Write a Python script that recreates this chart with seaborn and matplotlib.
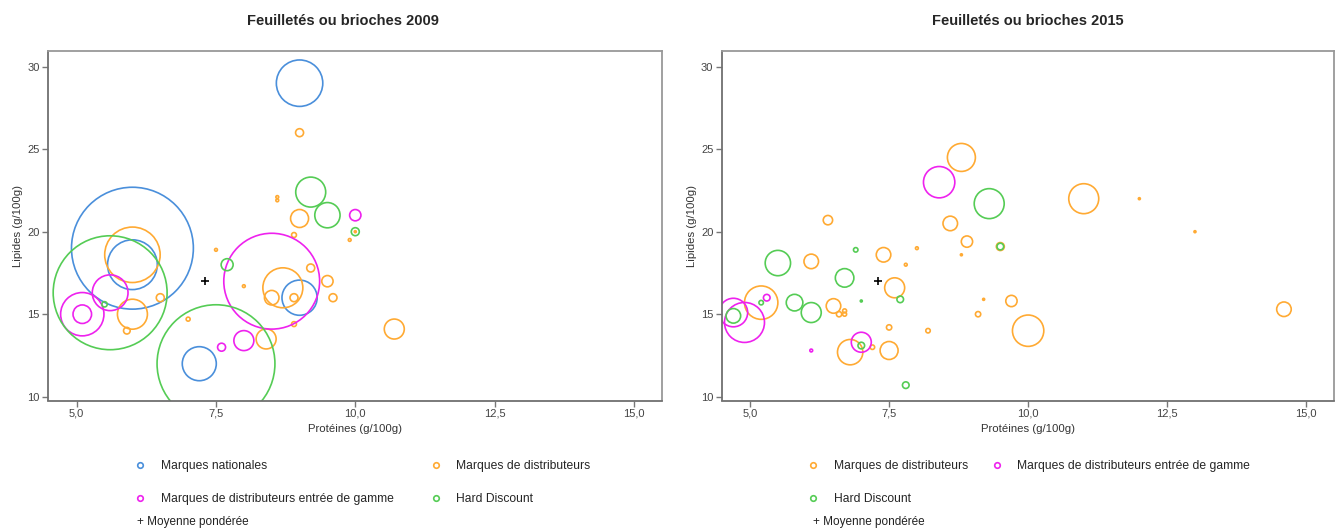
import pandas as pd
import matplotlib.pyplot as plt
from matplotlib.lines import Line2D
import seaborn as sns

# groupes de marques et couleurs
MN = 'Marques nationales'
MDD = 'Marques de distributeurs'
MDDEG = 'Marques de distributeurs entrée de gamme'
HD = 'Hard Discount'
couleurs = {MN: '#4a8fdb', MDD: '#ffaa33', MDDEG: '#ee22ee', HD: '#55cc55'}

# (protéines g/100g, lipides g/100g, poids du produit)
mn_2009 = [(9.0, 29.0, 54), (6.0, 19.0, 372), (6.0, 18.0, 62), (9.0, 16.0, 31),
           (7.2, 12.0, 29)]
mdd_2009 = [(9.0, 26.0, 1.6), (8.6, 22.1, 0.2), (8.6, 21.9, 0.2), (9.0, 20.8, 8.1),
            (8.9, 19.8, 0.6), (9.9, 19.5, 0.2), (10.0, 20.0, 0.1), (6.0, 18.6, 77),
            (7.5, 18.9, 0.2), (9.2, 17.8, 1.6), (8.7, 16.6, 40), (8.0, 16.7, 0.2),
            (9.5, 17.0, 3.2), (8.5, 16.0, 5.3), (8.9, 16.0, 1.6), (9.6, 16.0, 1.6),
            (6.5, 16.0, 1.6), (6.0, 15.0, 22.5), (5.9, 14.0, 1.1), (7.0, 14.7, 0.4),
            (8.9, 14.4, 0.6), (8.4, 13.5, 10), (10.7, 14.1, 10)]
mddeg_2009 = [(10.0, 21.0, 3.2), (8.5, 17.0, 230), (5.6, 16.3, 32), (5.1, 15.0, 47),
              (5.1, 15.0, 8.6), (8.0, 13.4, 10), (7.6, 13.0, 1.6)]
hd_2009 = [(9.2, 22.4, 22.5), (9.5, 21.0, 16), (10.0, 20.0, 1.6), (7.7, 18.0, 3.6),
           (5.6, 16.3, 325), (5.5, 15.6, 0.7), (7.5, 12.0, 348)]

mdd_2015 = [(8.8, 24.5, 19.6), (8.6, 20.5, 5.3), (6.4, 20.7, 2.2), (8.9, 19.4, 3.2),
            (9.5, 19.1, 1.6), (8.0, 19.0, 0.2), (8.8, 18.6, 0.1), (7.4, 18.6, 5.3),
            (6.1, 18.2, 5.3), (7.8, 18.0, 0.2), (7.6, 16.6, 10), (5.2, 15.7, 27.9),
            (6.5, 15.5, 5.3), (6.6, 15.0, 0.7), (6.7, 15.2, 0.4), (6.7, 15.0, 0.4),
            (9.2, 15.9, 0.1), (9.1, 15.0, 0.7), (9.7, 15.8, 3.2), (7.5, 14.2, 0.7),
            (8.2, 14.0, 0.5), (6.8, 12.7, 16.1), (7.5, 12.8, 8.1), (7.2, 13.0, 0.5),
            (11.0, 22.0, 22.5), (12.0, 22.0, 0.1), (13.0, 20.0, 0.1), (10.0, 14.0, 24.6),
            (14.6, 15.3, 5.3)]
mddeg_2015 = [(8.4, 23.0, 24.6), (5.3, 16.0, 1.1), (4.7, 15.1, 20.4), (4.9, 14.5, 40),
              (7.0, 13.3, 10), (6.1, 12.8, 0.2)]
hd_2015 = [(9.3, 21.7, 22.5), (9.5, 19.1, 1.1), (6.9, 18.9, 0.5), (5.5, 18.1, 16.1),
           (6.7, 17.2, 8.6), (7.0, 15.8, 0.1), (7.7, 15.9, 1.1), (5.8, 15.7, 6.9),
           (5.2, 15.7, 0.5), (6.1, 15.1, 10), (4.7, 14.9, 5.3), (7.0, 13.1, 1.1),
           (7.8, 10.7, 1.1)]

moyenne_2009 = (7.3, 17.0)
moyenne_2015 = (7.3, 17.0)

x_ticks = [5.0, 7.5, 10.0, 12.5, 15.0]
y_ticks = [10, 15, 20, 25, 30]

W_MAX = 400
S_MAX = W_MAX * 20.7


def make_df(series):
    rows = []
    for groupe, pts in series.items():
        for p, l, w in pts:
            rows.append({'groupe': groupe, 'proteines': p, 'lipides': l, 'poids': w})
    return pd.DataFrame(rows)


def trace(ax, df, moy, titre, title_x):
    sns.scatterplot(data=df, x='proteines', y='lipides', hue='groupe', palette=couleurs,
                    size='poids', sizes=(0, S_MAX), size_norm=(0, W_MAX),
                    legend=False, ax=ax, linewidth=1.2)
    # cercles vides
    coll = ax.collections[-1]
    coll.set_edgecolors(coll.get_facecolors())
    coll.set_facecolors('none')
    sns.scatterplot(x=[moy[0]], y=[moy[1]], marker='+', color='black', s=40,
                    linewidth=1.2, ax=ax, legend=False)

    ax.set_xlim(4.49, 15.5)
    ax.set_ylim(9.77, 30.95)
    ax.set_xticks(x_ticks, labels=[f'{v:.1f}'.replace('.', ',') for v in x_ticks])
    ax.set_yticks(y_ticks, labels=[str(v) for v in y_ticks])
    ax.tick_params(direction='out', length=4, width=1, color='#777777',
                   labelsize=8, labelcolor='#444444', pad=2)
    for s in ['top', 'right']:
        ax.spines[s].set_color('#999999')
        ax.spines[s].set_linewidth(1.3)
    for s in ['left', 'bottom']:
        ax.spines[s].set_color('#707070')
        ax.spines[s].set_linewidth(1.3)
    ax.set_xlabel('Protéines (g/100g)', fontsize=8.2, color='#333333', labelpad=4)
    ax.set_ylabel('Lipides (g/100g)', fontsize=8.2, color='#333333', labelpad=3)
    ax.set_title(titre, fontsize=10.5, fontweight='bold', x=title_x, pad=19)


def legende(fig, ordre, x0, colsp, x_moy):
    handles = [Line2D([], [], marker='o', ls='', markersize=4, markerfacecolor='none',
                      markeredgecolor=couleurs[g], markeredgewidth=1.2, label=g)
               for g in ordre]
    fig.legend(handles=handles, loc='upper left', bbox_to_anchor=(x0 / 1336, 1 - 460 / 532),
               ncol=2, frameon=False, fontsize=8.7, handlelength=1, handletextpad=1.2,
               columnspacing=colsp, labelspacing=1.72, borderpad=0, borderaxespad=0)
    fig.text(x_moy / 1336, 1 - 522 / 532, '+ Moyenne pondérée', va='center',
             fontsize=8.5, color='#222222')


sns.set_style('ticks')
plt.rcParams['font.family'] = ['Liberation Sans', 'DejaVu Sans']

fig = plt.figure(figsize=(13.36, 5.32), dpi=100)
ax1 = fig.add_axes([48.3 / 1336, 131.5 / 532, 613.4 / 1336, 349.5 / 532])
ax2 = fig.add_axes([721.7 / 1336, 131.5 / 532, 612.3 / 1336, 349.5 / 532])

df_2009 = make_df({MN: mn_2009, MDD: mdd_2009, MDDEG: mddeg_2009, HD: hd_2009})
df_2015 = make_df({MDD: mdd_2015, MDDEG: mddeg_2015, HD: hd_2015})

trace(ax1, df_2009, moyenne_2009, 'Feuilletés ou brioches 2009', 0.48)
trace(ax2, df_2015, moyenne_2015, 'Feuilletés ou brioches 2015', 0.5)

legende(fig, [MN, MDDEG, MDD, HD], 134, 3.0, 137)
legende(fig, [MDD, HD, MDDEG], 807, 1.9, 813)

fig.savefig('out.png', dpi=100)
plt.close(fig)
